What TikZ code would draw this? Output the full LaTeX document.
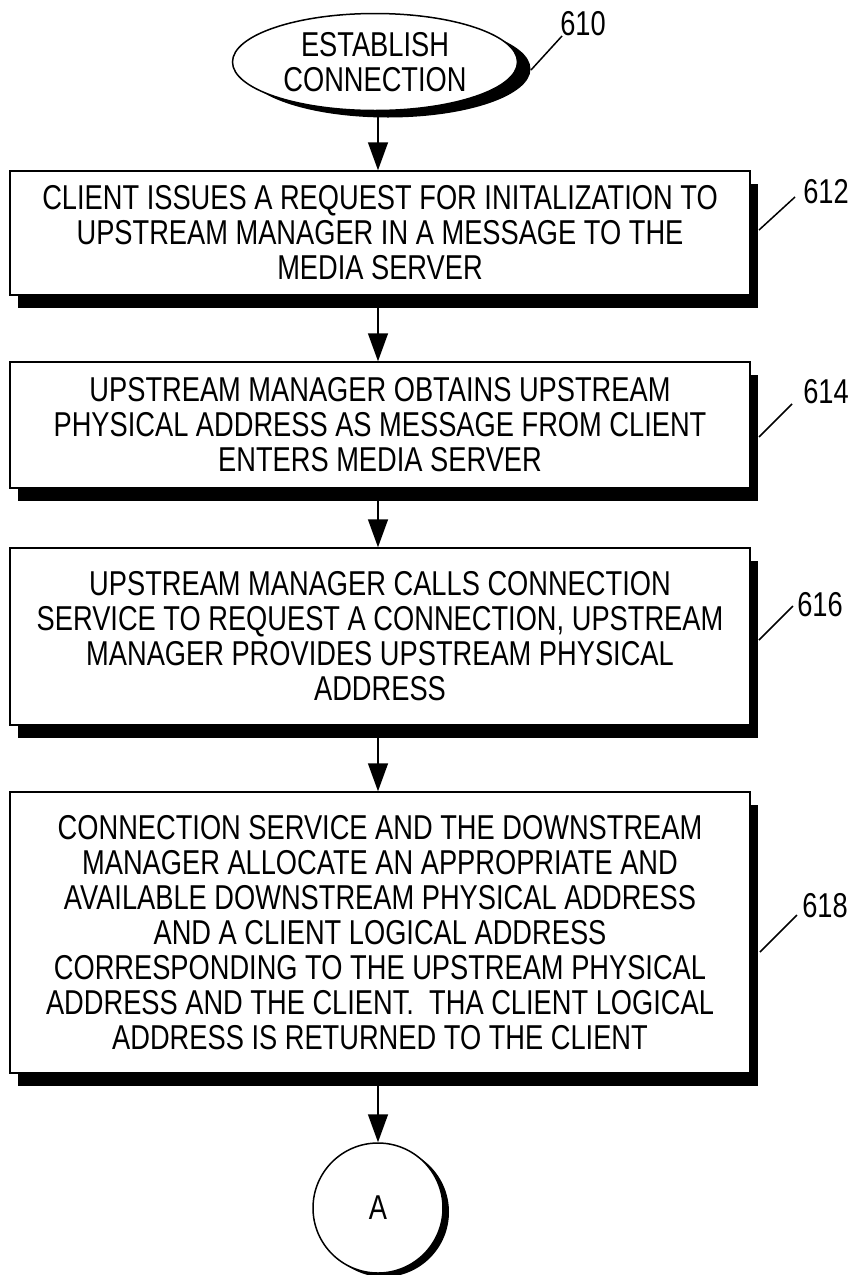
\documentclass[tikz,border=0pt]{standalone}
\usepackage{fontspec}
\newfontfamily\figfont[FakeStretch=0.79]{Liberation Sans}
\usetikzlibrary{arrows.meta,shapes.geometric,shadows}
\tikzset{
  txt/.style={font=\figfont\fontsize{34.5}{35}\selectfont},
  stepbox/.style={txt, draw, line width=1.5pt, fill=white, align=center, inner sep=0pt,
    minimum width=740pt,
    drop shadow={fill=black, opacity=1, shadow xshift=8pt, shadow yshift=-13pt}},
  startnode/.style={txt, ellipse, draw, line width=1.5pt, fill=white, align=center, inner sep=0pt,
    minimum width=285pt, minimum height=97pt,
    drop shadow={fill=black, opacity=1, shadow xshift=13pt, shadow yshift=-7pt}},
  connnode/.style={txt, circle, draw, line width=1.5pt, fill=white, inner sep=0pt,
    minimum size=130pt,
    drop shadow={fill=black, opacity=1, shadow xshift=6pt, shadow yshift=-4pt}},
  flow/.style={line width=1.5pt, -{Triangle[length=28pt,width=20pt]}},
  leader/.style={line width=1.5pt},
  reflabel/.style={txt, inner sep=0pt}
}
\begin{document}
\begin{tikzpicture}[x=1pt,y=-1pt]
\useasboundingbox (0,0) rectangle (854,1275);

\node[startnode] (e610) at (375,62) {ESTABLISH\\CONNECTION};

\node[stepbox, minimum height=124pt] (b612) at (380,233)
  {CLIENT ISSUES A REQUEST FOR INITALIZATION TO\\UPSTREAM MANAGER IN A MESSAGE TO THE\\MEDIA SERVER};
\node[stepbox, minimum height=126pt] (b614) at (380,425)
  {UPSTREAM MANAGER OBTAINS UPSTREAM\\PHYSICAL ADDRESS AS MESSAGE FROM CLIENT\\ENTERS MEDIA SERVER};
\node[stepbox, minimum height=177pt] (b616) at (380,636.5)
  {UPSTREAM MANAGER CALLS CONNECTION\\SERVICE TO REQUEST A CONNECTION, UPSTREAM\\MANAGER PROVIDES UPSTREAM PHYSICAL\\ADDRESS};
\node[stepbox, minimum height=281pt] (b618) at (380,932.5)
  {CONNECTION SERVICE AND THE DOWNSTREAM\\MANAGER ALLOCATE AN APPROPRIATE AND\\AVAILABLE DOWNSTREAM PHYSICAL ADDRESS\\AND A CLIENT LOGICAL ADDRESS\\CORRESPONDING TO THE UPSTREAM PHYSICAL\\ADDRESS AND THE CLIENT.\ \ THA CLIENT LOGICAL\\ADDRESS IS RETURNED TO THE CLIENT};

\node[connnode] (cA) at (378,1208) {A};

% connectors
\draw[flow] (e610.south -| cA) -- (b612.north -| cA);
\draw[flow] (b612.south -| cA) -- (b614.north -| cA);
\draw[flow] (b614.south -| cA) -- (b616.north -| cA);
\draw[flow] (b616.south -| cA) -- (b618.north -| cA);
\draw[flow] (b618.south -| cA) -- (cA.north);

% reference labels
\node[reflabel] (t610) at (583,24) {610};
\node[reflabel] (t612) at (826,192) {612};
\node[reflabel] (t614) at (826,392) {614};
\node[reflabel] (t616) at (820,605) {616};
\node[reflabel] (t618) at (825,906) {618};

\coordinate (k610a) at (531,70);  \coordinate (k610b) at (562,36);
\coordinate (k612a) at (759,230); \coordinate (k612b) at (795,197);
\coordinate (k614a) at (759,437); \coordinate (k614b) at (792,404);
\coordinate (k616a) at (759,640); \coordinate (k616b) at (793,606);
\coordinate (k618a) at (760,952); \coordinate (k618b) at (797,915);
\draw[leader] (k610a) -- (k610b);
\draw[leader] (k612a) -- (k612b);
\draw[leader] (k614a) -- (k614b);
\draw[leader] (k616a) -- (k616b);
\draw[leader] (k618a) -- (k618b);
\end{tikzpicture}
\end{document}
